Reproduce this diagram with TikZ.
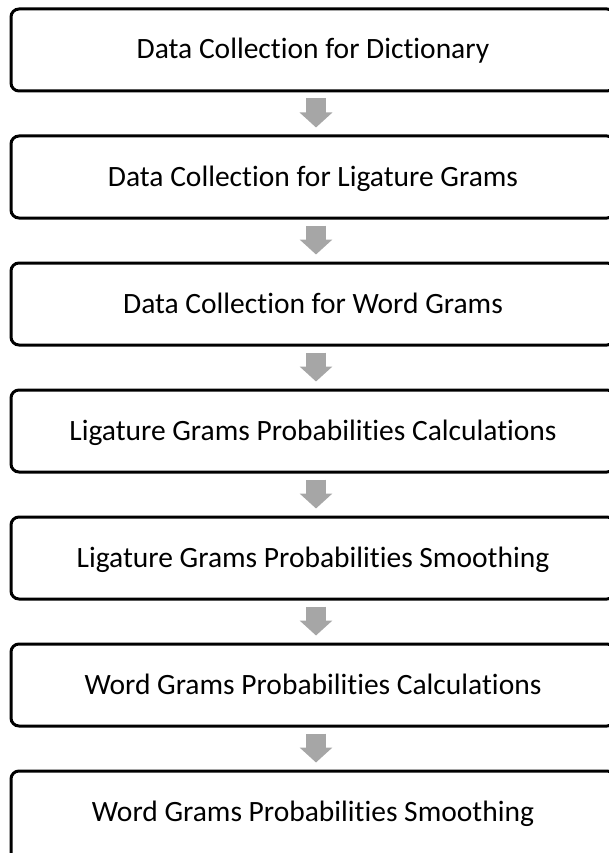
\documentclass[tikz,border=0pt]{standalone}
\usepackage{fontspec}
\setmainfont[Ligatures=NoCommon]{Carlito}
\usetikzlibrary{arrows.meta,calc}
\definecolor{arrowgray}{HTML}{A6A6A6}
\begin{document}
\begin{tikzpicture}[x=1pt,y=-1pt,
  steptext/.style={font=\fontsize{29.5}{35}\selectfont, text height=22pt, text depth=4pt},
  stepbox/.style={draw=black, line width=3pt, rounded corners=8pt,
    minimum width=604pt, minimum height=82pt, inner sep=0pt, steptext},
  flowarrow/.style={arrowgray, line width=20pt,
    -{Triangle[width=32pt,length=15pt]}}]
\useasboundingbox (0,0) rectangle (609,853);
\node[stepbox] (b1) at (313,50)  {Data Collection for Dictionary};
\node[stepbox] (b2) at (313,177) {Data Collection for Ligature Grams};
\node[stepbox] (b3) at (313,304) {Data Collection for Word Grams};
\node[stepbox] (b4) at (313,431) {Ligature Grams Probabilities Calculations};
\node[stepbox] (b5) at (313,558) {Ligature Grams Probabilities Smoothing};
\node[stepbox] (b6) at (313,685) {Word Grams Probabilities Calculations};
\node[stepbox, minimum height=96pt] (b7) at (313,819) {};
\node[steptext, inner sep=0pt] (t7) at (313,812) {Word Grams Probabilities Smoothing};
\foreach \a/\b in {b1/b2,b2/b3,b3/b4,b4/b5,b5/b6,b6/b7}{
  \draw[flowarrow] ($(\a.south)+(3,6)$) -- ($(\b.north)+(3,-7)$);
}
\end{tikzpicture}
\end{document}
